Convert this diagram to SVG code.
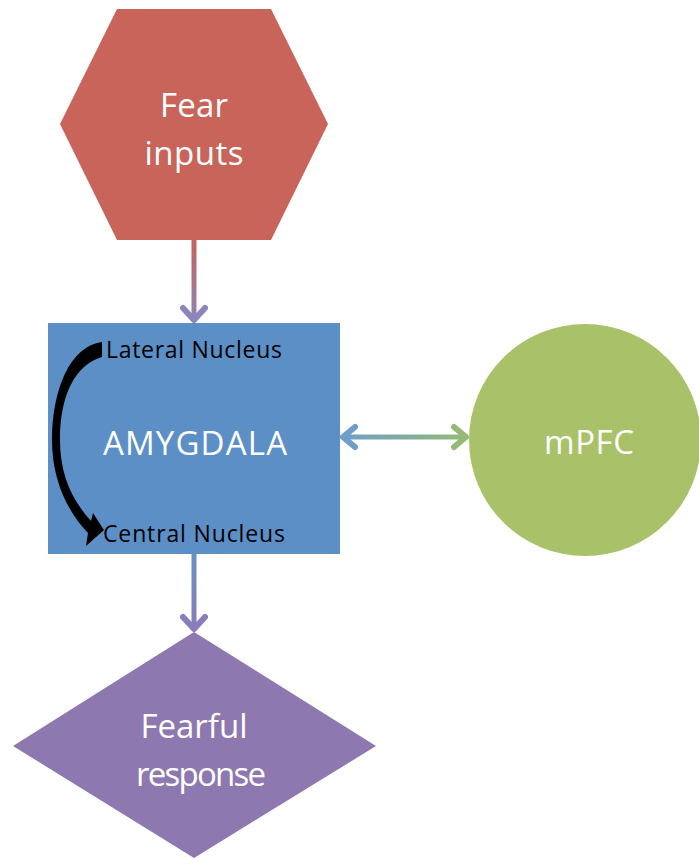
<svg xmlns="http://www.w3.org/2000/svg" width="699" height="858" viewBox="0 0 699 858">
<defs>
<style>
.lbl{font-family:"Open Sans","Liberation Sans",sans-serif;fill:#fff;text-anchor:middle;font-size:33px}
.sm{font-family:"Open Sans","Liberation Sans",sans-serif;fill:#000;font-size:23px}
.chev{fill:none;stroke-width:6;stroke-linecap:round;stroke-linejoin:round}
</style>
<linearGradient id="g1" x1="0" y1="240" x2="0" y2="323" gradientUnits="userSpaceOnUse">
<stop offset="0" stop-color="#C8625B"/><stop offset="1" stop-color="#8B86BA"/>
</linearGradient>
<linearGradient id="g2" x1="0" y1="554" x2="0" y2="632" gradientUnits="userSpaceOnUse">
<stop offset="0" stop-color="#6A8FC8"/><stop offset="1" stop-color="#8A7DBA"/>
</linearGradient>
<linearGradient id="g3" x1="341" y1="0" x2="468" y2="0" gradientUnits="userSpaceOnUse">
<stop offset="0" stop-color="#6F9EC8"/><stop offset="1" stop-color="#95BA78"/>
</linearGradient>
</defs>
<rect width="699" height="858" fill="#fff"/>
<g id="mpfc">
<circle cx="585" cy="440" r="116" fill="#A9C26A"/>
<text class="lbl" x="589" y="454" textLength="90">mPFC</text>
</g>
<g id="fear-inputs">
<polygon points="117,9 271,9 328,124 271,240 117,240 60,124" fill="#C9645A"/>
<text class="lbl" x="194" y="117" textLength="68">Fear</text>
<text class="lbl" x="194" y="165" textLength="99">inputs</text>
</g>
<g id="amygdala">
<rect x="48" y="323" width="292" height="231" fill="#5B8FC6"/>
<text class="lbl" x="195" y="455" textLength="184">AMYGDALA</text>
<text class="sm" x="106" y="358" textLength="176">Lateral Nucleus</text>
<text class="sm" x="103" y="542" textLength="182">Central Nucleus</text>
<path d="M102,342 L102,357 C75,365 60,395 60,440 C60,475 72,500 91,521 L93,513 L104,530 L86,546 L88,533 C66,510 52,478 52,440 C52,390 70,346 102,342 Z" fill="#000"/>
</g>
<g id="fearful-response">
<polygon points="194,632 376,746 194,858 13,746" fill="#8E78B0"/>
<text class="lbl" x="194" y="738" textLength="107">Fearful</text>
<text class="lbl" x="201" y="786" textLength="130">response</text>
</g>
<g id="connectors">
<line x1="194" y1="240" x2="194" y2="321" stroke="url(#g1)" stroke-width="5"/>
<polyline class="chev" points="183,308 194,320 205,308" stroke="#8B86BA"/>
<line x1="194" y1="554" x2="194" y2="630" stroke="url(#g2)" stroke-width="5"/>
<polyline class="chev" points="183,617 194,629 205,617" stroke="#8A7DBA"/>
<line x1="343" y1="437" x2="466" y2="437" stroke="url(#g3)" stroke-width="5"/>
<polyline class="chev" points="355,427 343,437 355,447" stroke="#6F9EC8"/>
<polyline class="chev" points="454,427 466,437 454,447" stroke="#95BA78"/>
</g>
</svg>
